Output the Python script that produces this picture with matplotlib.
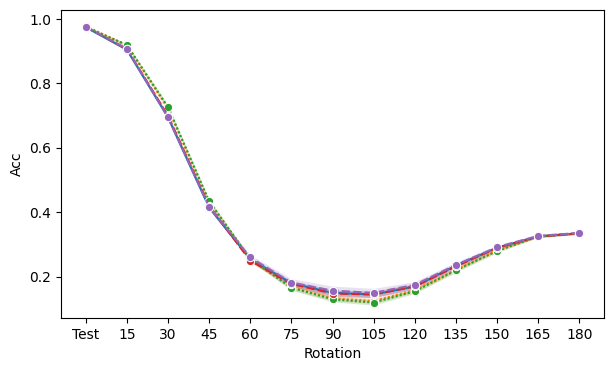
import numpy as np
import matplotlib.pyplot as plt

rotations = ["Test", "15", "30", "45", "60", "75", "90", "105", "120", "135", "150", "165", "180"]

acc_blue = [0.975, 0.905, 0.695, 0.415, 0.255, 0.180, 0.150, 0.145, 0.170, 0.235, 0.290, 0.325, 0.335]
acc_orange = [0.978, 0.918, 0.722, 0.432, 0.255, 0.168, 0.133, 0.125, 0.158, 0.222, 0.282, 0.325, 0.335]
acc_green = [0.975, 0.920, 0.727, 0.435, 0.255, 0.166, 0.130, 0.120, 0.155, 0.220, 0.280, 0.325, 0.335]
acc_red = [0.975, 0.907, 0.700, 0.420, 0.250, 0.178, 0.148, 0.145, 0.170, 0.232, 0.290, 0.325, 0.335]
acc_purple = [0.975, 0.908, 0.695, 0.417, 0.260, 0.182, 0.157, 0.150, 0.175, 0.237, 0.292, 0.327, 0.336]

# half-width of the light confidence band around each line
band_blue = [0.003, 0.004, 0.006, 0.006, 0.006, 0.008, 0.010, 0.010, 0.008, 0.006, 0.005, 0.003, 0.003]
band_orange = [0.003, 0.004, 0.006, 0.006, 0.006, 0.008, 0.008, 0.008, 0.007, 0.006, 0.005, 0.003, 0.003]
band_green = [0.003, 0.004, 0.006, 0.006, 0.006, 0.008, 0.008, 0.008, 0.007, 0.006, 0.005, 0.003, 0.003]
band_red = [0.003, 0.004, 0.006, 0.006, 0.006, 0.008, 0.010, 0.010, 0.008, 0.006, 0.005, 0.003, 0.003]
band_purple = [0.003, 0.004, 0.008, 0.008, 0.008, 0.012, 0.014, 0.014, 0.010, 0.008, 0.006, 0.004, 0.003]

series = [
    (acc_blue, band_blue, "#1f77b4", "-"),
    (acc_orange, band_orange, "#ff7f0e", (0, (1, 1))),
    (acc_green, band_green, "#2ca02c", (0, (1, 1))),
    (acc_red, band_red, "#d62728", (0, (4, 1.5))),
    (acc_purple, band_purple, "#9467bd", (0, (4, 1.5))),
]

fig = plt.figure(figsize=(6.13, 3.71), dpi=100)
ax = fig.add_axes([61 / 613, 1 - 318 / 371, 543 / 613, 308 / 371])

x = np.arange(len(rotations))
for vals, band, color, ls in series:
    vals = np.array(vals)
    band = np.array(band)
    ax.fill_between(x, vals - band, vals + band, color=color, alpha=0.2, linewidth=0)
    ax.plot(x, vals, color=color, linestyle=ls, linewidth=1.5,
            marker="o", markersize=6, markeredgecolor="white", markeredgewidth=0.75)

ax.set_xticks(x)
ax.set_xticklabels(rotations)
ax.set_xlim(-0.6, 12.6)
ax.set_ylim(0.072, 1.028)
ax.set_yticks([0.2, 0.4, 0.6, 0.8, 1.0])
ax.set_xlabel("Rotation")
ax.set_ylabel("Acc")

fig.savefig("out.png", dpi=100)
